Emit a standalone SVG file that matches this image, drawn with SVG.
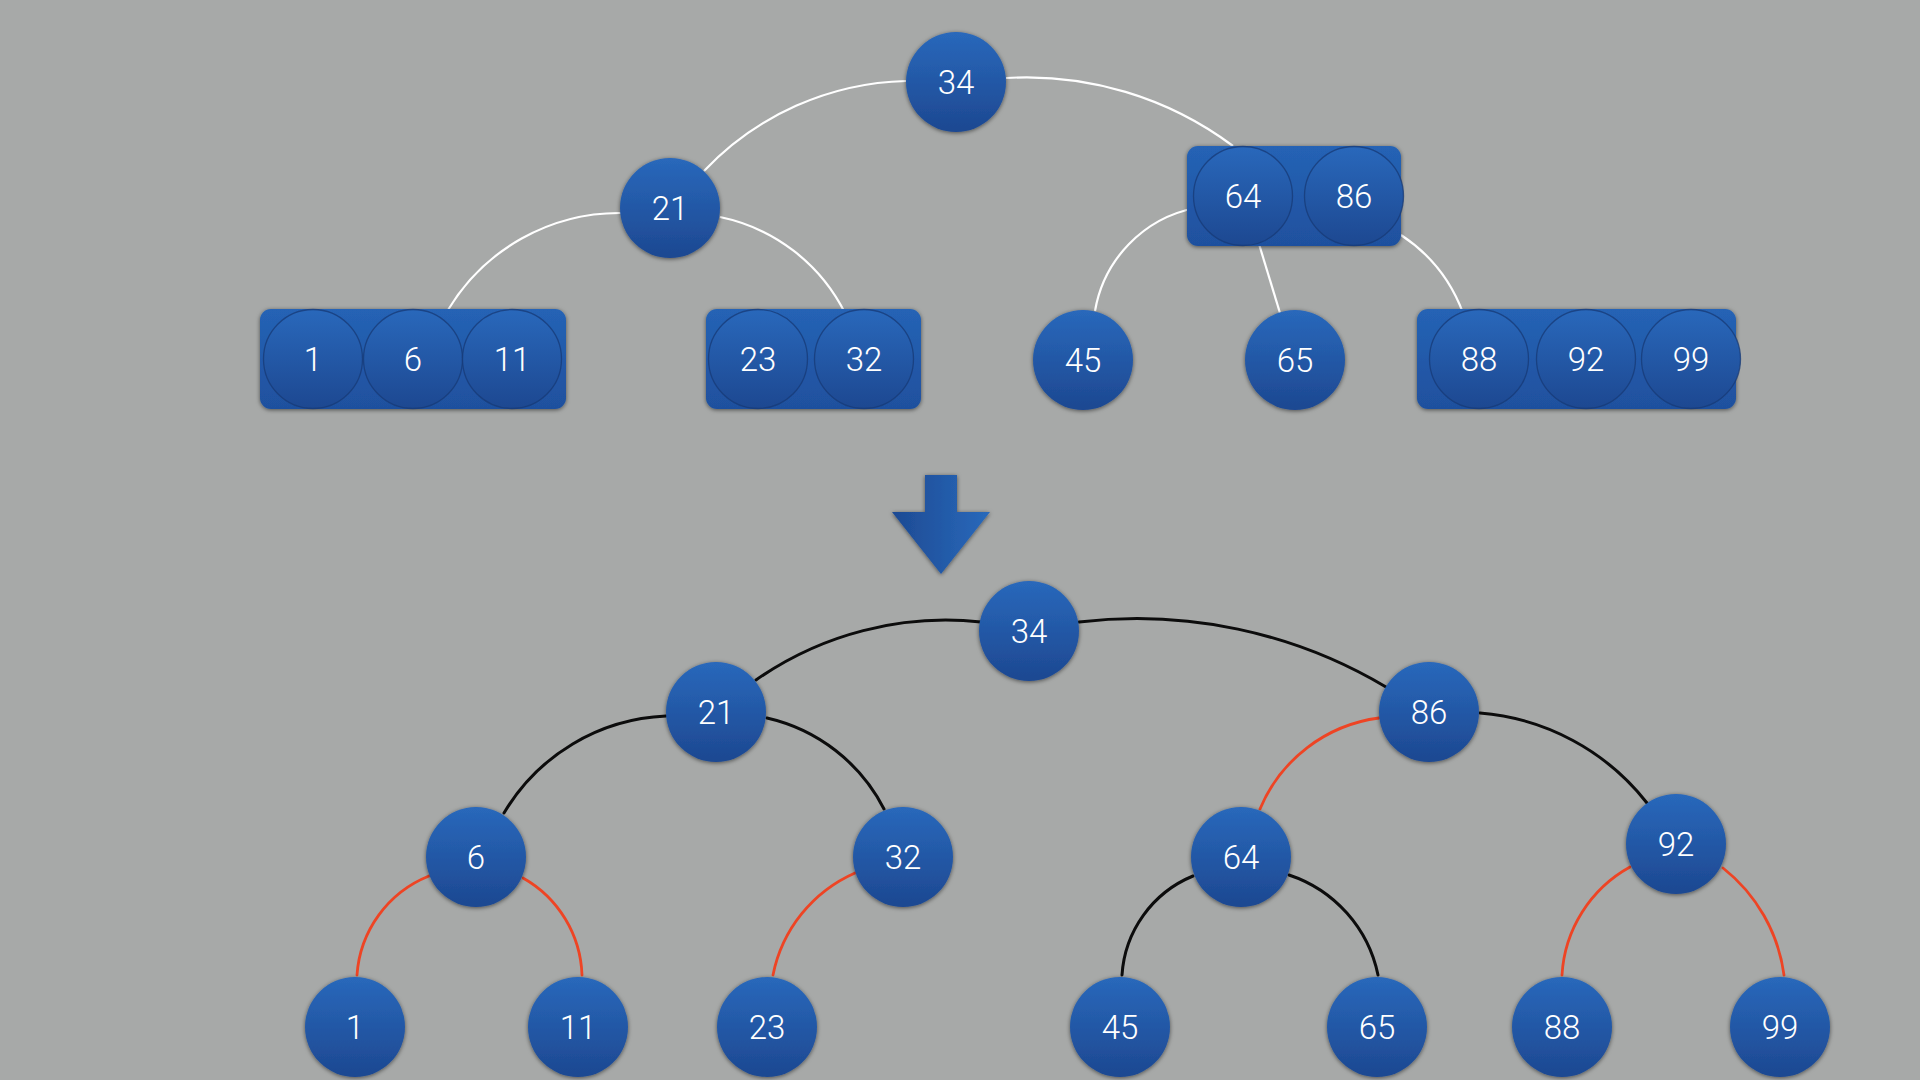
<svg xmlns="http://www.w3.org/2000/svg" width="1920" height="1080" viewBox="0 0 1920 1080">
<defs>
<linearGradient id="nodeGrad" x1="0" y1="0" x2="0" y2="1">
<stop offset="0" stop-color="#2968bb"/>
<stop offset="1" stop-color="#1d4891"/>
</linearGradient>
<linearGradient id="boxGrad" x1="0" y1="0" x2="0" y2="1">
<stop offset="0" stop-color="#2563b5"/>
<stop offset="1" stop-color="#1f509e"/>
</linearGradient>
<linearGradient id="arrowGrad" x1="0" y1="0" x2="1" y2="0">
<stop offset="0" stop-color="#1d4a93"/>
<stop offset="1" stop-color="#2969bb"/>
</linearGradient>
<filter id="shadow" x="-30%" y="-30%" width="160%" height="160%">
<feDropShadow dx="0" dy="1" stdDeviation="2.2" flood-color="#000" flood-opacity="0.55"/>
</filter>
</defs>
<style>
.bg{fill:#a7a9a8}
.node{fill:url(#nodeGrad);filter:url(#shadow)}
.inbox{fill:url(#nodeGrad);stroke:#173a75;stroke-opacity:0.75;stroke-width:1.3}
.box{fill:url(#boxGrad);filter:url(#shadow)}
.lbl{fill:#ffffff;font-family:Roboto,"Liberation Sans",Arial,sans-serif;font-weight:300;font-size:33px;text-anchor:middle}
.w{fill:none;stroke:#ffffff;stroke-width:2.2}
.k{fill:none;stroke:#0c0c0c;stroke-width:3;stroke-linecap:round}
.r{fill:none;stroke:#ee4424;stroke-width:2.8;stroke-linecap:round}
</style>
<rect class="bg" x="0" y="0" width="1920" height="1080"/>

<g id="connectors">
<g id="top-edges">
<path class="w" d="M906,81 A288,288 0 0 0 704,171"/>
<path class="w" d="M1006,78 A345,345 0 0 1 1233,146"/>
<path class="w" d="M621,213 A200,200 0 0 0 448,310"/>
<path class="w" d="M720,217 A181,181 0 0 1 845,313"/>
<path class="w" d="M1195,208 A127,127 0 0 0 1095,311"/>
<path class="w" d="M1259,244 L1280,313"/>
<path class="w" d="M1401,235 A160,160 0 0 1 1463,313"/>
</g>
<g id="bottom-edges">
<path class="k" d="M981,622 A331,331 0 0 0 756,680"/>
<path class="k" d="M1079,622 A487,487 0 0 1 1386,687"/>
<path class="k" d="M666,716 A198,198 0 0 0 504,813"/>
<path class="k" d="M767,718 A175,175 0 0 1 884,809"/>
<path class="r" d="M1379,718 A150,150 0 0 0 1260,809"/>
<path class="k" d="M1480,713 A236,236 0 0 1 1647,803"/>
<path class="k" d="M1193,876 A115,115 0 0 0 1122,975"/>
<path class="k" d="M1289,875 A134,134 0 0 1 1378,975"/>
<path class="r" d="M1630,867 A132,132 0 0 0 1562,975"/>
<path class="r" d="M1723,868 A164,164 0 0 1 1784,975"/>
<path class="r" d="M429,876 A115,115 0 0 0 357,975"/>
<path class="r" d="M523,878 A116,116 0 0 1 582,975"/>
<path class="r" d="M855,873 A142,142 0 0 0 773,975"/>
</g>
</g>

<!-- Top tree -->
<g id="t34"><circle class="node" cx="956" cy="82" r="50"/><text class="lbl" x="956" y="94">34</text></g>
<g id="t21"><circle class="node" cx="670" cy="208" r="50"/><text class="lbl" x="670" y="220">21</text></g>
<g id="t-box-64-86">
<rect class="box" x="1187" y="146" width="214" height="100" rx="11"/>
<g id="t64"><circle class="inbox" cx="1243" cy="196" r="49.5"/><text class="lbl" x="1243" y="208">64</text></g>
<g id="t86"><circle class="inbox" cx="1354" cy="196" r="49.5"/><text class="lbl" x="1354" y="208">86</text></g>
</g>
<g id="t-box-1-6-11">
<rect class="box" x="260" y="309" width="306" height="100" rx="11"/>
<g id="t1"><circle class="inbox" cx="313" cy="359" r="49.5"/><text class="lbl" x="313" y="371">1</text></g>
<g id="t6"><circle class="inbox" cx="413" cy="359" r="49.5"/><text class="lbl" x="413" y="371">6</text></g>
<g id="t11"><circle class="inbox" cx="512" cy="359" r="49.5"/><text class="lbl" x="512" y="371">11</text></g>
</g>
<g id="t-box-23-32">
<rect class="box" x="706" y="309" width="215" height="100" rx="11"/>
<g id="t23"><circle class="inbox" cx="758" cy="359" r="49.5"/><text class="lbl" x="758" y="371">23</text></g>
<g id="t32"><circle class="inbox" cx="864" cy="359" r="49.5"/><text class="lbl" x="864" y="371">32</text></g>
</g>
<g id="t45"><circle class="node" cx="1083" cy="360" r="50"/><text class="lbl" x="1083" y="372">45</text></g>
<g id="t65"><circle class="node" cx="1295" cy="360" r="50"/><text class="lbl" x="1295" y="372">65</text></g>
<g id="t-box-88-92-99">
<rect class="box" x="1417" y="309" width="319" height="100" rx="11"/>
<g id="t88"><circle class="inbox" cx="1479" cy="359" r="49.5"/><text class="lbl" x="1479" y="371">88</text></g>
<g id="t92"><circle class="inbox" cx="1586" cy="359" r="49.5"/><text class="lbl" x="1586" y="371">92</text></g>
<g id="t99"><circle class="inbox" cx="1691" cy="359" r="49.5"/><text class="lbl" x="1691" y="371">99</text></g>
</g>

<!-- Transform arrow -->
<g id="arrow">
<polygon points="925,475 957,475 957,512 990,512 941,574 892,512 925,512" fill="url(#arrowGrad)" filter="url(#shadow)"/>
</g>

<!-- Bottom tree -->
<g id="b34"><circle class="node" cx="1029" cy="631" r="50"/><text class="lbl" x="1029" y="643">34</text></g>
<g id="b21"><circle class="node" cx="716" cy="712" r="50"/><text class="lbl" x="716" y="724">21</text></g>
<g id="b86"><circle class="node" cx="1429" cy="712" r="50"/><text class="lbl" x="1429" y="724">86</text></g>
<g id="b6"><circle class="node" cx="476" cy="857" r="50"/><text class="lbl" x="476" y="869">6</text></g>
<g id="b32"><circle class="node" cx="903" cy="857" r="50"/><text class="lbl" x="903" y="869">32</text></g>
<g id="b64"><circle class="node" cx="1241" cy="857" r="50"/><text class="lbl" x="1241" y="869">64</text></g>
<g id="b92"><circle class="node" cx="1676" cy="844" r="50"/><text class="lbl" x="1676" y="856">92</text></g>
<g id="b1"><circle class="node" cx="355" cy="1027" r="50"/><text class="lbl" x="355" y="1039">1</text></g>
<g id="b11"><circle class="node" cx="578" cy="1027" r="50"/><text class="lbl" x="578" y="1039">11</text></g>
<g id="b23"><circle class="node" cx="767" cy="1027" r="50"/><text class="lbl" x="767" y="1039">23</text></g>
<g id="b45"><circle class="node" cx="1120" cy="1027" r="50"/><text class="lbl" x="1120" y="1039">45</text></g>
<g id="b65"><circle class="node" cx="1377" cy="1027" r="50"/><text class="lbl" x="1377" y="1039">65</text></g>
<g id="b88"><circle class="node" cx="1562" cy="1027" r="50"/><text class="lbl" x="1562" y="1039">88</text></g>
<g id="b99"><circle class="node" cx="1780" cy="1027" r="50"/><text class="lbl" x="1780" y="1039">99</text></g>
</svg>
